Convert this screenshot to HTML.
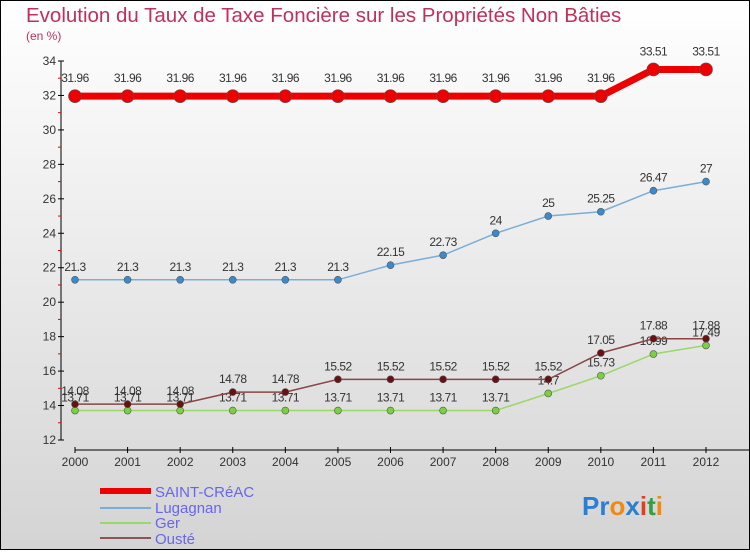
<!DOCTYPE html>
<html><head><meta charset="utf-8"><style>
body{margin:0;width:750px;height:550px;overflow:hidden;font-family:"Liberation Sans",sans-serif}
</style></head><body>
<svg width="750" height="550" xmlns="http://www.w3.org/2000/svg">
<defs><linearGradient id="bg" x1="0" y1="0" x2="0" y2="1"><stop offset="0" stop-color="#ffffff"/><stop offset="1" stop-color="#d4d4d4"/></linearGradient></defs>
<rect x="0.5" y="0.5" width="749" height="549" fill="url(#bg)" stroke="#000"/>
<text x="26" y="22" font-size="20.5" fill="#c0305a">Evolution du Taux de Taxe Foncière sur les Propriétés Non Bâties</text>
<text x="26" y="40" font-size="12" fill="#c0305a">(en %)</text>
<g id="axes"></g><g id="series"></g>
<g>
<line x1="100" y1="491" x2="151" y2="491" stroke="#e00" stroke-width="6"/>
<text x="155" y="497" font-size="15" fill="#6666ee">SAINT-CRéAC</text>
<line x1="100" y1="508" x2="151" y2="508" stroke="#7aaed6" stroke-width="2"/>
<text x="155" y="513" font-size="15" fill="#6666ee">Lugagnan</text>
<line x1="100" y1="523" x2="151" y2="523" stroke="#9ad86a" stroke-width="2"/>
<text x="155" y="528" font-size="15" fill="#6666ee">Ger</text>
<line x1="100" y1="538" x2="151" y2="538" stroke="#8a5555" stroke-width="2"/>
<text x="155" y="544" font-size="15" fill="#6666ee">Ousté</text>
</g>
<text x="582" y="515" font-size="26" font-weight="bold"><tspan fill="#2a7fd0">Pr</tspan><tspan fill="#f08a10">o</tspan><tspan fill="#2a7fd0">x</tspan><tspan fill="#e04020">i</tspan><tspan fill="#30a040">t</tspan><tspan fill="#f08a10">i</tspan></text>
</svg>
<script>
const years=["2000","2001","2002","2003","2004","2005","2006","2007","2008","2009","2010","2011","2012"];
const yTicks=[12,14,16,18,20,22,24,26,28,30,32,34];
const saint=[31.96,31.96,31.96,31.96,31.96,31.96,31.96,31.96,31.96,31.96,31.96,33.51,33.51];
const lugagnan=[21.3,21.3,21.3,21.3,21.3,21.3,22.15,22.73,24,25,25.25,26.47,27];
const ger=[13.71,13.71,13.71,13.71,13.71,13.71,13.71,13.71,13.71,14.7,15.73,16.99,17.49];
const ouste=[14.08,14.08,14.08,14.78,14.78,15.52,15.52,15.52,15.52,15.52,17.05,17.88,17.88];
const labGer=["13.71","13.71","13.71","13.71","13.71","13.71","13.71","13.71","13.71","14.7","15.73","16.99","17.49"];
const NS="http://www.w3.org/2000/svg";
const X=i=>75+i*(706-75)/12;
const Y=v=>440-(v-12)*(440-61)/22;
function mk(t,a,p){const e=document.createElementNS(NS,t);for(const k in a)e.setAttribute(k,a[k]);p.appendChild(e);return e;}
const ax=document.getElementById('axes');
let e=mk('line',{x1:61,y1:61,x2:61,y2:440,stroke:'#000'},ax);


e=mk('line',{x1:75,y1:450,x2:750,y2:450,stroke:'#000'},ax);


yTicks.forEach(v=>{
 mk('line',{x1:58,y1:Y(v),x2:64,y2:Y(v),stroke:'#000'},ax);
 if(v<34)mk('line',{x1:58,y1:Y(v+1),x2:61,y2:Y(v+1),stroke:'#e00'},ax);
 const t=mk('text',{x:56,y:Y(v)+4,'font-size':12,fill:'#333','text-anchor':'end'},ax);t.textContent=v;
 
 
});
years.forEach((y,i)=>{
 mk('line',{x1:X(i),y1:447,x2:X(i),y2:453,stroke:'#000'},ax);
 const t=mk('text',{x:X(i),y:466,'font-size':12,fill:'#333','text-anchor':'middle'},ax);t.textContent=y;
 
 
});
const sg=document.getElementById('series');
function series(name,data,labels,color,dot,w,r,off){
 const g=mk('g',{},sg);
 
 
 const l=mk('polyline',{points:data.map((v,i)=>X(i)+','+Y(v)).join(' '),fill:'none',stroke:color,'stroke-width':w},g);
 
 
 data.forEach((v,i)=>{
  const c=mk('circle',{cx:X(i),cy:Y(v),r:r,fill:dot,stroke:'#555','stroke-width':0.6},g);
  
  
  const t=mk('text',{x:X(i),y:Y(v)-off,'font-size':12,fill:'#333','text-anchor':'middle','letter-spacing':'-0.5'},g);
  t.textContent=labels?labels[i]:String(v);
  
  
 });
}
series('lugagnan',lugagnan,null,'#7aaed6','#3a8ad0',1.5,3.5,9);
series('ger',ger,labGer,'#9ad86a','#7ad040',1.5,3.5,9);
series('ouste',ouste,null,'#8a4545','#6a1010',1.5,3.5,9);
series('saint-creac',saint,null,'#e00','#e00',7,6.5,14);
</script>
</body></html>
